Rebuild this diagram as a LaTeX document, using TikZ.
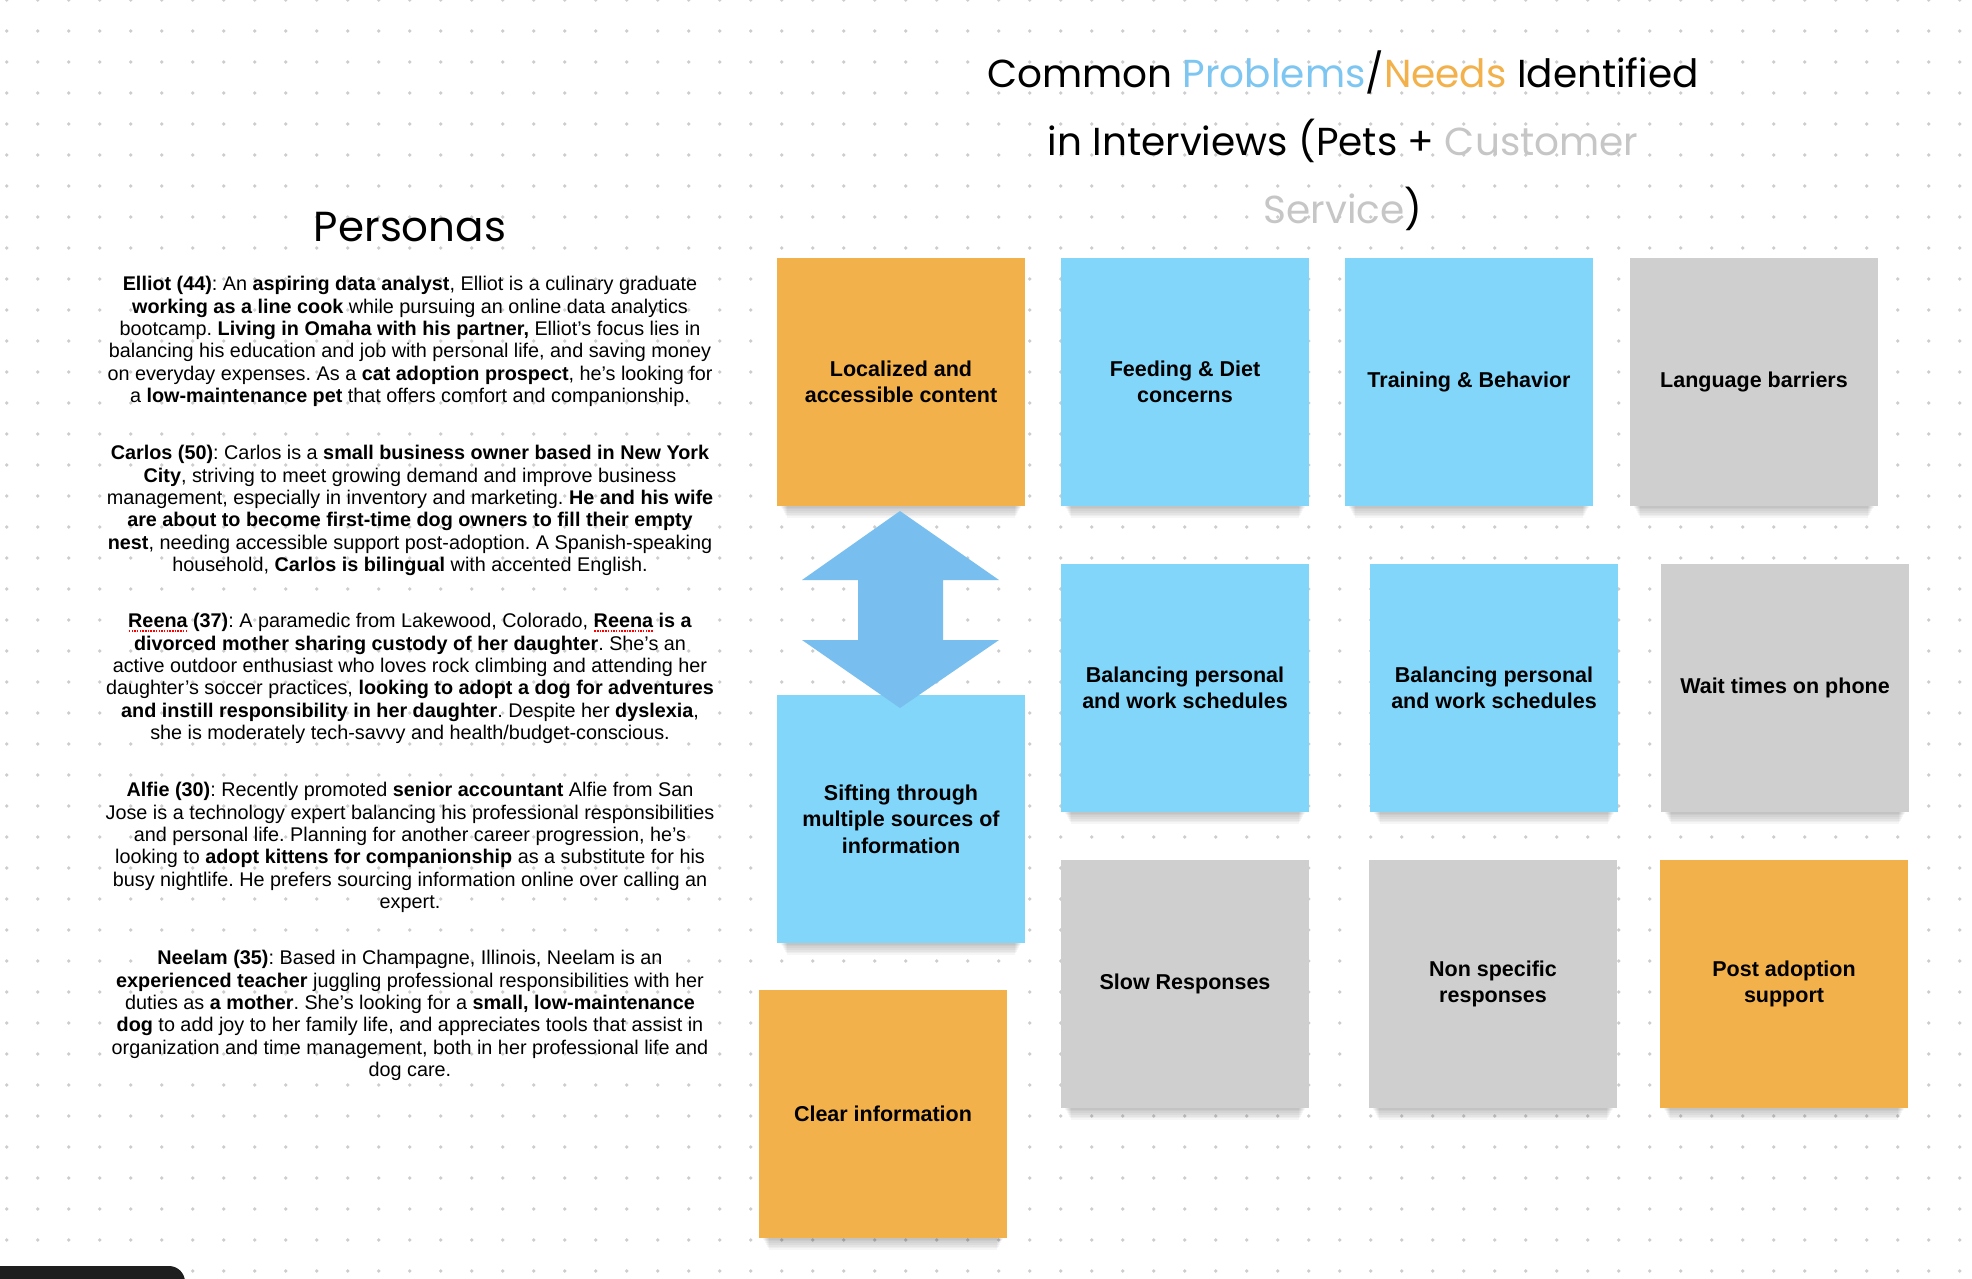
\documentclass[tikz,border=0pt]{standalone}
\usepackage{fontspec}
\setmainfont{Liberation Sans}[Ligatures=ResetAll]
\newfontfamily\handfont{Poppins}
\usetikzlibrary{calc}
\definecolor{skyb}{HTML}{82D6FA}
\definecolor{orng}{HTML}{F2B14A}
\definecolor{gry}{HTML}{CFCFCF}
\definecolor{arrowb}{HTML}{78BEEF}
\definecolor{dotc}{HTML}{CDCDCD}
\definecolor{titleb}{HTML}{7EC6F2}
\definecolor{titleo}{HTML}{F2B14A}
\definecolor{titleg}{HTML}{C6C6C6}
\definecolor{darkbar}{HTML}{1E1E1E}
\frenchspacing
\newsavebox\splbox
\newcommand\spelline[1]{\sbox\splbox{#1}\rlap{\textcolor{red}{\raisebox{-4pt}{\hbox to \wd\splbox{\xleaders\hbox to 2.7pt{\hss\rule{1.5pt}{1.5pt}\hss}\hfill}}}}\usebox\splbox}
\newcommand\noteshadow[2]{%
  \foreach \k in {1,...,7}{%
    \fill[black,opacity=0.035] (#1-121+\k,#2+118) rectangle (#1+121-\k,#2+124+1.7*\k);}}
\begin{document}
\begin{tikzpicture}[x=1pt,y=-1pt,
  sticky/.style={minimum width=248pt,minimum height=248pt,inner sep=0pt,align=center,
    font=\fontsize{21.5}{26.4}\selectfont\bfseries,text=black},
  bluenote/.style={sticky,fill=skyb},
  orangenote/.style={sticky,fill=orng},
  graynote/.style={sticky,fill=gry},
  persona/.style={align=center,inner sep=0pt,anchor=north,
    font=\fontsize{19.8}{22.3}\selectfont\frenchspacing},
  handtitle/.style={align=center,inner sep=0pt}]
\useasboundingbox (0,0) rectangle (1972,1278);
\fill[white] (0,0) rectangle (1972,1278);
% dot grid
\foreach \i in {0,...,63}{\foreach \j in {0,...,41}{\fill[dotc] (6.7+31*\i,31*\j) circle (1.9);}}
% titles
\node[handtitle,font=\handfont\fontsize{42}{60}\selectfont] (ptitle) at (410,227) {Personas};
\node[handtitle,font=\handfont\fontsize{39}{68}\selectfont] (mtitle) at (1343,141)
  {Common \textcolor{titleb}{Problems}/\textcolor{titleo}{Needs} Identified\\
   in Interviews (Pets + \textcolor{titleg}{Customer}\\
   \textcolor{titleg}{Service})};
% personas
\node[persona] (elliot) at (410,275) {\strut\textbf{Elliot (44)}: An \textbf{aspiring data analyst}, Elliot is a culinary graduate\\
\textbf{working as a line cook} while pursuing an online data analytics\\
bootcamp. \textbf{Living in Omaha with his partner,} Elliot's focus lies in\\
balancing his education and job with personal life, and saving money\\
on everyday expenses. As a \textbf{cat adoption prospect}, he's looking for\\
a \textbf{low-maintenance pet} that offers comfort and companionship.};
\node[persona] (carlos) at (410,444) {\strut\textbf{Carlos (50)}: Carlos is a \textbf{small business owner based in New York}\\
\textbf{City}, striving to meet growing demand and improve business\\
management, especially in inventory and marketing. \textbf{He and his wife}\\
\textbf{are about to become first-time dog owners to fill their empty}\\
\textbf{nest}, needing accessible support post-adoption. A Spanish-speaking\\
household, \textbf{Carlos is bilingual} with accented English.};
\node[persona] (reena) at (410,612) {\strut\textbf{\spelline{Reena} (37)}: A paramedic from Lakewood, Colorado, \textbf{\spelline{Reena} is a}\\
\textbf{divorced mother sharing custody of her daughter}. She's an\\
active outdoor enthusiast who loves rock climbing and attending her\\
daughter's soccer practices, \textbf{looking to adopt a dog for adventures}\\
\textbf{and instill responsibility in her daughter}. Despite her \textbf{dyslexia},\\
she is moderately tech-savvy and health/budget-conscious.};
\node[persona] (alfie) at (410,781) {\strut\textbf{Alfie (30)}: Recently promoted \textbf{senior accountant} Alfie from San\\
Jose is a technology expert balancing his professional responsibilities\\
and personal life. Planning for another career progression, he's\\
looking to \textbf{adopt kittens for companionship} as a substitute for his\\
busy nightlife. He prefers sourcing information online over calling an\\
expert.};
\node[persona] (neelam) at (410,949) {\strut\textbf{Neelam (35)}: Based in Champagne, Illinois, Neelam is an\\
\textbf{experienced teacher} juggling professional responsibilities with her\\
duties as \textbf{a mother}. She's looking for a \textbf{small, low-maintenance}\\
\textbf{dog} to add joy to her family life, and appreciates tools that assist in\\
organization and time management, both in her professional life and\\
dog care.};
% shadows
\noteshadow{901}{382}
\noteshadow{1185}{382}
\noteshadow{1469}{382}
\noteshadow{1754}{382}
\noteshadow{1185}{688}
\noteshadow{1494}{688}
\noteshadow{1785}{688}
\noteshadow{1185}{984}
\noteshadow{1493}{984}
\noteshadow{1784}{984}
\noteshadow{901}{819}
\noteshadow{883}{1114}
% sticky notes
\node[orangenote] (loc) at (901,382) {Localized and\\accessible content};
\node[bluenote] (feed) at (1185,382) {Feeding \& Diet\\concerns};
\node[bluenote] (train) at (1469,382) {Training \& Behavior};
\node[graynote] (lang) at (1754,382) {Language barriers};
\node[bluenote] (bal1) at (1185,688) {Balancing personal\\and work schedules};
\node[bluenote] (bal2) at (1494,688) {Balancing personal\\and work schedules};
\node[graynote] (wait) at (1785,688) {Wait times on phone};
\node[graynote] (slow) at (1185,984) {Slow Responses};
\node[graynote] (nonspec) at (1493,984) {Non specific\\responses};
\node[orangenote] (post) at (1784,984) {Post adoption\\support};
\node[bluenote] (sift) at (901,819) {Sifting through\\multiple sources of\\information};
\node[orangenote] (clear) at (883,1114) {Clear information};
% double arrow between loc and sift
\coordinate (ac) at (900,609.5);
\fill[arrowb] ($(ac)+(0,-98.5)$) -- ($(ac)+(99,-29.5)$) -- ($(ac)+(43,-29.5)$) -- ($(ac)+(43,30.5)$)
  -- ($(ac)+(99,30.5)$) -- ($(ac)+(0,98.5)$) -- ($(ac)+(-98,30.5)$) -- ($(ac)+(-42,30.5)$)
  -- ($(ac)+(-42,-29.5)$) -- ($(ac)+(-98,-29.5)$) -- cycle;
% dark bar bottom-left
\fill[darkbar,rounded corners=16] (-30,1266) rectangle (185,1330);
\end{tikzpicture}
\end{document}
